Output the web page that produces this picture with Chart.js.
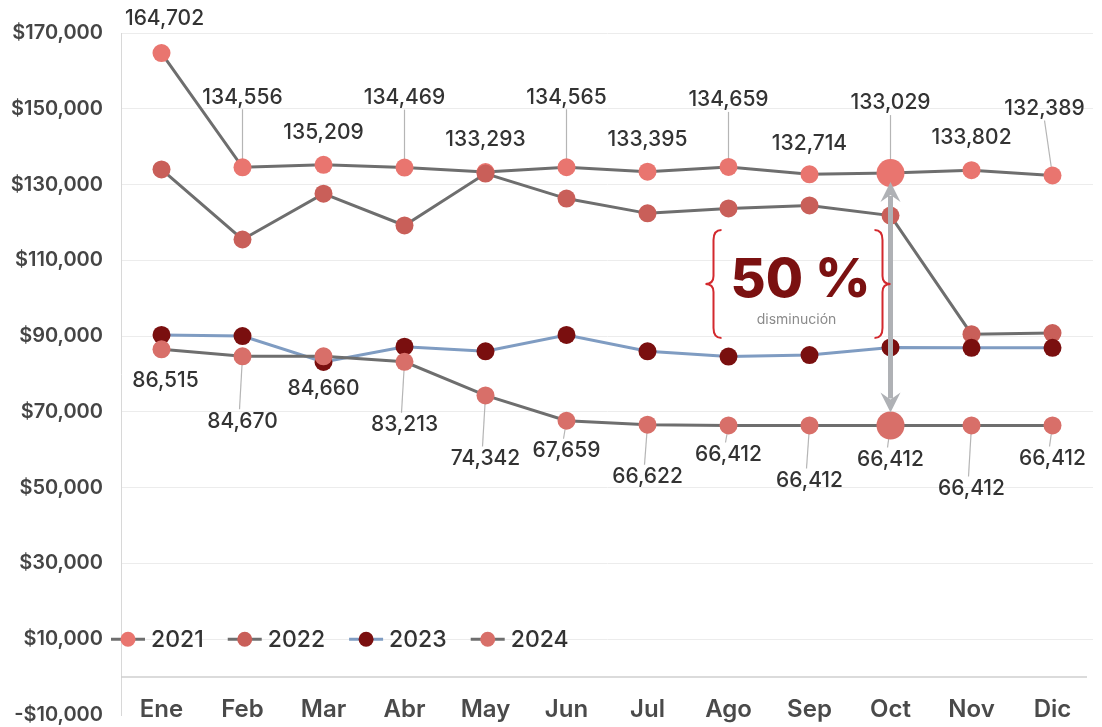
<!DOCTYPE html>
<html>
<head>
<meta charset="utf-8">
<script src="https://cdn.jsdelivr.net/npm/chart.js@4.4.1/dist/chart.umd.min.js"></script>
<style>
  html, body { margin: 0; padding: 0; background: #fff; overflow: hidden; }
  #marco { position: relative; width: 1102px; height: 727px; }
</style>
</head>
<body>
<div id="marco"><canvas id="ventas"></canvas></div>
<script>
const meses = ['Ene', 'Feb', 'Mar', 'Abr', 'May', 'Jun', 'Jul', 'Ago', 'Sep', 'Oct', 'Nov', 'Dic'];
const anios = ['2021', '2022', '2023', '2024'];

const serie2021 = [164702, 134556, 135209, 134469, 133293, 134565, 133395, 134659, 132714, 133029, 133802, 132389];
const serie2022 = [134000, 115500, 127600, 119200, 132900, 126300, 122400, 123700, 124500, 121800, 90500, 90800];
const serie2023 = [90300, 90000, 83200, 87200, 86000, 90300, 86000, 84600, 85000, 87000, 86900, 86900];
const serie2024 = [86515, 84670, 84660, 83213, 74342, 67659, 66622, 66412, 66412, 66412, 66412, 66412];

const yMin = -10000;
const yMax = 170000;
const yPaso = 20000;

// mes destacado (Oct) y texto del recuadro
const mesDestacado = 9;
const textoPorcentaje = '50 %';
const textoNota = 'disminución';

const fuente = 'Inter, "Noto Sans", sans-serif';
const gris = '#6e6e6e';

// desplazamiento vertical de cada etiqueta respecto a su punto
const despl2021 = [-34, -70, -32, -70, -32, -70, -32, -67, -31, -70, -32, -67];
const despl2024 = [31, 65, 32, 63, 63, 30, 52, 29, 55, 34, 63, 33];

const radio = (c) => c.dataIndex === mesDestacado ? 14 : 9;
const radioSolo = () => 9;

const datasets = [
  { label: anios[0], data: serie2021, borderColor: gris, backgroundColor: '#e9756f', order: 4, radius: radio },
  { label: anios[1], data: serie2022, borderColor: gris, backgroundColor: '#c95f59', order: 3, radius: radioSolo },
  { label: anios[2], data: serie2023, borderColor: '#7f9cc2', backgroundColor: '#7a0f0f', order: 2, radius: radioSolo },
  { label: anios[3], data: serie2024, borderColor: gris, backgroundColor: '#d86f69', order: 1, radius: radio }
].map(d => ({
  label: d.label,
  data: d.data,
  order: d.order,
  borderColor: d.borderColor,
  backgroundColor: d.backgroundColor,
  pointBackgroundColor: d.backgroundColor,
  pointBorderColor: d.backgroundColor,
  pointBorderWidth: 0,
  pointRadius: d.radius,
  pointHoverRadius: d.radius,
  borderWidth: 3,
  tension: 0,
  fill: false
}));

const fmtDinero = (v) => (v < 0 ? '-$' : '$') + Math.abs(v).toLocaleString('en-US');
const fmtNum = (v) => v.toLocaleString('en-US');

function llave(ctx, x, top, bottom, dir) {
  // dir = 1 abre a la derecha (llave izquierda), -1 a la izquierda
  const mid = (top + bottom) / 2;
  const w = 8 * dir;
  ctx.beginPath();
  ctx.moveTo(x + w, top);
  ctx.quadraticCurveTo(x, top, x, top + 10);
  ctx.lineTo(x, mid - 8);
  ctx.quadraticCurveTo(x, mid, x - w, mid);
  ctx.quadraticCurveTo(x, mid, x, mid + 8);
  ctx.lineTo(x, bottom - 10);
  ctx.quadraticCurveTo(x, bottom, x + w, bottom);
  ctx.stroke();
}

function flecha(ctx, x, yDesde, yHasta) {
  const dir = Math.sign(yHasta - yDesde);
  ctx.beginPath();
  ctx.moveTo(x, yHasta);
  ctx.lineTo(x - 10, yHasta - 20 * dir);
  ctx.lineTo(x, yHasta - 13 * dir);
  ctx.lineTo(x + 10, yHasta - 20 * dir);
  ctx.closePath();
  ctx.fill();
}

const extras = {
  id: 'extras',
  beforeDatasetsDraw(chart) {
    const { ctx, chartArea, scales } = chart;
    ctx.save();
    // linea del cero
    const y0 = scales.y.getPixelForValue(0);
    ctx.strokeStyle = '#cfcfcf';
    ctx.lineWidth = 1.5;
    ctx.beginPath();
    ctx.moveTo(chartArea.left, y0);
    ctx.lineTo(chartArea.right - 6, y0);
    ctx.stroke();

    // meses bajo la linea del cero
    ctx.fillStyle = '#4a4a4a';
    ctx.font = '600 24px ' + fuente;
    ctx.textAlign = 'center';
    ctx.textBaseline = 'middle';
    meses.forEach((m, i) => {
      ctx.fillText(m, scales.x.getPixelForValue(i), chartArea.bottom - 5);
    });

    // lineas guia de las etiquetas
    ctx.strokeStyle = '#b5b5b5';
    ctx.lineWidth = 1.2;
    const m21 = chart.getDatasetMeta(0);
    m21.data.forEach((p, i) => {
      if (despl2021[i] > -50) return;
      const lx = p.x + (i === 11 ? -8 : 0);
      ctx.beginPath();
      ctx.moveTo(lx, p.y + despl2021[i] + 12);
      ctx.lineTo(p.x, p.y);
      ctx.stroke();
    });
    const m24 = chart.getDatasetMeta(3);
    m24.data.forEach((p, i) => {
      if (i === 0 || i === 2) return;
      ctx.beginPath();
      ctx.moveTo(p.x, p.y);
      ctx.lineTo(p.x - 3, p.y + despl2024[i] - 12);
      ctx.stroke();
    });
    ctx.restore();
  },
  afterDatasetsDraw(chart) {
    const { ctx, chartArea, scales } = chart;
    const x = scales.x, y = scales.y;
    ctx.save();

    // etiquetas de valores
    ctx.font = '500 21px ' + fuente;
    ctx.fillStyle = '#333333';
    ctx.textAlign = 'center';
    ctx.textBaseline = 'middle';
    chart.getDatasetMeta(0).data.forEach((p, i) => {
      const lx = p.x + (i === 11 ? -8 : 0) + (i === 0 ? 3 : 0);
      ctx.fillText(fmtNum(serie2021[i]), lx, p.y + despl2021[i]);
    });
    chart.getDatasetMeta(3).data.forEach((p, i) => {
      const lx = p.x + (i === 0 ? 4 : 0);
      ctx.fillText(fmtNum(serie2024[i]), lx, p.y + despl2024[i]);
    });

    // flecha doble en el mes destacado
    const xa = x.getPixelForValue(mesDestacado);
    const ya = y.getPixelForValue(serie2021[mesDestacado]) + 9;
    const yb = y.getPixelForValue(serie2024[mesDestacado]) - 13;
    ctx.strokeStyle = '#afb1b5';
    ctx.fillStyle = '#afb1b5';
    ctx.lineWidth = 5;
    ctx.beginPath();
    ctx.moveTo(xa, ya + 14);
    ctx.lineTo(xa, yb - 14);
    ctx.stroke();
    flecha(ctx, xa, yb, ya);
    flecha(ctx, xa, ya, yb);

    // recuadro del porcentaje
    const cx = x.getPixelForValue(8) - 13;
    const top = y.getPixelForValue(118000);
    const bottom = y.getPixelForValue(89500);
    ctx.strokeStyle = '#d3292e';
    ctx.lineWidth = 2;
    llave(ctx, cx - 83, top, bottom, 1);
    llave(ctx, cx + 86, top, bottom, -1);
    ctx.fillStyle = '#7b1111';
    ctx.font = '800 54px ' + fuente;
    ctx.fillText(textoPorcentaje, cx + 4, (top + bottom) / 2 - 3);
    ctx.fillStyle = '#8a8a8a';
    ctx.font = '400 14px ' + fuente;
    ctx.fillText(textoNota, cx, (top + bottom) / 2 + 36);

    // leyenda sobre la linea de $10,000
    const yl = y.getPixelForValue(10000);
    let lx = chartArea.left - 10;
    ctx.font = '500 23px ' + fuente;
    ctx.textAlign = 'left';
    chart.data.datasets.forEach((d) => {
      ctx.strokeStyle = d.borderColor;
      ctx.lineWidth = 3;
      ctx.beginPath();
      ctx.moveTo(lx, yl);
      ctx.lineTo(lx + 34, yl);
      ctx.stroke();
      ctx.fillStyle = d.backgroundColor;
      ctx.beginPath();
      ctx.arc(lx + 17, yl, 7.5, 0, Math.PI * 2);
      ctx.fill();
      ctx.fillStyle = '#333333';
      ctx.fillText(d.label, lx + 40, yl + 1);
      lx += 40 + ctx.measureText(d.label).width + 24;
    });
    ctx.restore();
  }
};

new Chart(document.getElementById('ventas'), {
  type: 'line',
  data: { labels: meses, datasets: datasets },
  plugins: [extras],
  options: {
    responsive: true,
    maintainAspectRatio: false,
    devicePixelRatio: 1,
    animation: false,
    layout: { padding: { top: 33, right: -10, bottom: 0, left: 0 } },
    plugins: {
      legend: { display: false },
      tooltip: { enabled: false }
    },
    scales: {
      x: {
        display: false,
        offset: true
      },
      y: {
        min: yMin,
        max: yMax,
        ticks: {
          stepSize: yPaso,
          color: '#454545',
          padding: 0,
          font: { family: fuente, size: 20, weight: '600' },
          callback: (v) => fmtDinero(v)
        },
        grid: {
          drawTicks: true,
          tickLength: 18,
          tickColor: 'rgba(0,0,0,0)',
          color: (c) => c.tick && c.tick.value === yMin ? 'rgba(0,0,0,0)' : '#ececec'
        },
        border: { display: true, color: '#d8d8d8' },
        afterFit(s) { s.width = 121; }
      }
    }
  }
});
</script>
</body>
</html>
